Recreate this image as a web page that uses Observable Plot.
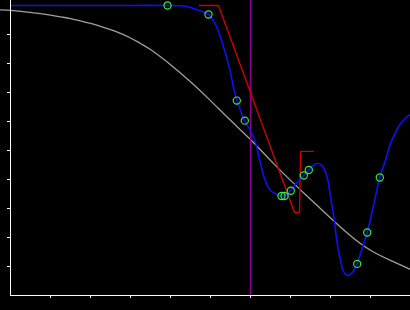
<!DOCTYPE html>
<html>
<head>
<meta charset="utf-8">
<script src="https://cdn.jsdelivr.net/npm/d3@7"></script>
<script src="https://cdn.jsdelivr.net/npm/@observablehq/plot@0.6"></script>
<style>
  html, body { margin: 0; padding: 0; background: #000; }
</style>
</head>
<body>
<div id="chart"></div>
<script>
// Gray reference curve
const grayX = [-0.25, 0, 0.25, 0.5, 0.75, 1, 1.25, 1.5, 1.75, 2, 2.25, 2.5, 2.75, 3, 3.25, 3.5, 4, 4.5, 5, 5.5, 6, 6.5, 7, 7.5, 8, 8.5, 9, 9.5, 10];
const grayY = [0.985, 0.983, 0.980, 0.976, 0.972, 0.967, 0.961, 0.955, 0.947, 0.938, 0.928, 0.917, 0.904, 0.888, 0.869, 0.848, 0.796, 0.737, 0.672, 0.604, 0.538, 0.466, 0.397, 0.332, 0.267, 0.206, 0.156, 0.121, 0.090];

// Blue fitted curve
const blueX = [0, 2.25, 3.925, 4.325, 4.575, 4.75, 4.95, 5.125, 5.25, 5.375, 5.5, 5.575, 5.6625, 5.75, 5.85, 6.025, 6.125, 6.2075, 6.2925, 6.375, 6.5, 6.6675, 6.7875, 6.9175, 7.0, 7.1625, 7.3325, 7.4575, 7.5825, 7.6825, 7.7925, 7.9175, 8.0, 8.0825, 8.15, 8.25, 8.325, 8.4175, 8.5425, 8.6675, 8.75, 8.8175, 8.9175, 9.075, 9.2325, 9.375, 9.5, 9.625, 9.75, 9.9175, 10];
const blueY = [1.0, 1.0, 1.0, 0.998, 0.990, 0.981, 0.969, 0.934, 0.890, 0.834, 0.769, 0.717, 0.672, 0.638, 0.603, 0.562, 0.528, 0.479, 0.431, 0.393, 0.362, 0.348, 0.342, 0.350, 0.362, 0.390, 0.414, 0.433, 0.451, 0.455, 0.448, 0.407, 0.341, 0.272, 0.197, 0.121, 0.083, 0.069, 0.079, 0.109, 0.145, 0.172, 0.217, 0.310, 0.407, 0.466, 0.524, 0.562, 0.593, 0.617, 0.624];

// Green sample points
const ptX = [3.925, 4.95, 5.6575, 5.8575, 6.775, 6.85, 7.0075, 7.3325, 7.4575, 8.6675, 8.9175, 9.2325];
const ptY = [1.0, 0.969, 0.672, 0.603, 0.343, 0.343, 0.361, 0.414, 0.433, 0.109, 0.217, 0.407];

// Red piecewise line
const redX = [4.725, 5.2, 7.1, 7.225, 7.25, 7.575];
const redY = [1.0, 1.0, 0.286, 0.286, 0.497, 0.497];

// Vertical marker
const markerX = [6];

// Ticks
const xTicks = [1, 2, 3, 4, 5, 6, 7, 8, 9, 10];
const yTicks = [0.1, 0.2, 0.3, 0.4, 0.5, 0.6, 0.7, 0.8, 0.9];

const yTop = 295 / 290; // axis extends to the top edge

const gray = grayX.map((x, i) => ({x, y: grayY[i]}));
const blue = blueX.map((x, i) => ({x, y: blueY[i]}));
const pts = ptX.map((x, i) => ({x, y: ptY[i]}));
const red = redX.map((x, i) => ({x, y: redY[i]}));

const chart = Plot.plot({
  width: 410,
  height: 310,
  marginLeft: 10,
  marginRight: 0,
  marginTop: 5,
  marginBottom: 15,
  style: {background: "#000", color: "#fff", overflow: "visible"},
  x: {domain: [0, 10], axis: null},
  y: {domain: [0, 1], axis: null},
  marks: [
    Plot.axisX({ticks: xTicks, tickSize: 3, tickFormat: () => "", label: null, stroke: "#fff"}),
    Plot.axisY({ticks: yTicks, tickSize: 3, tickFormat: () => "", label: null, stroke: "#fff"}),
    Plot.line(gray, {x: "x", y: "y", stroke: "#a0a0a0", strokeWidth: 1.3, curve: "natural"}),
    Plot.ruleX(markerX, {x: d => d, y1: 0, y2: yTop, stroke: "#8a008a", strokeWidth: 1.5}),
    Plot.line(red, {x: "x", y: "y", stroke: "#cc0000", strokeWidth: 1.4}),
    Plot.line(blue, {x: "x", y: "y", stroke: "#1010f0", strokeWidth: 1.6, curve: "catmull-rom"}),
    Plot.dot(pts, {x: "x", y: "y", r: 3.6, stroke: "#30ee30", strokeWidth: 1.2, fill: "none"}),
    Plot.ruleY([0], {x1: 0, x2: 10, stroke: "#fff", strokeWidth: 1}),
    Plot.ruleX([0], {y1: 0, y2: yTop, stroke: "#fff", strokeWidth: 1})
  ]
});
document.getElementById("chart").appendChild(chart);
</script>
</body>
</html>
